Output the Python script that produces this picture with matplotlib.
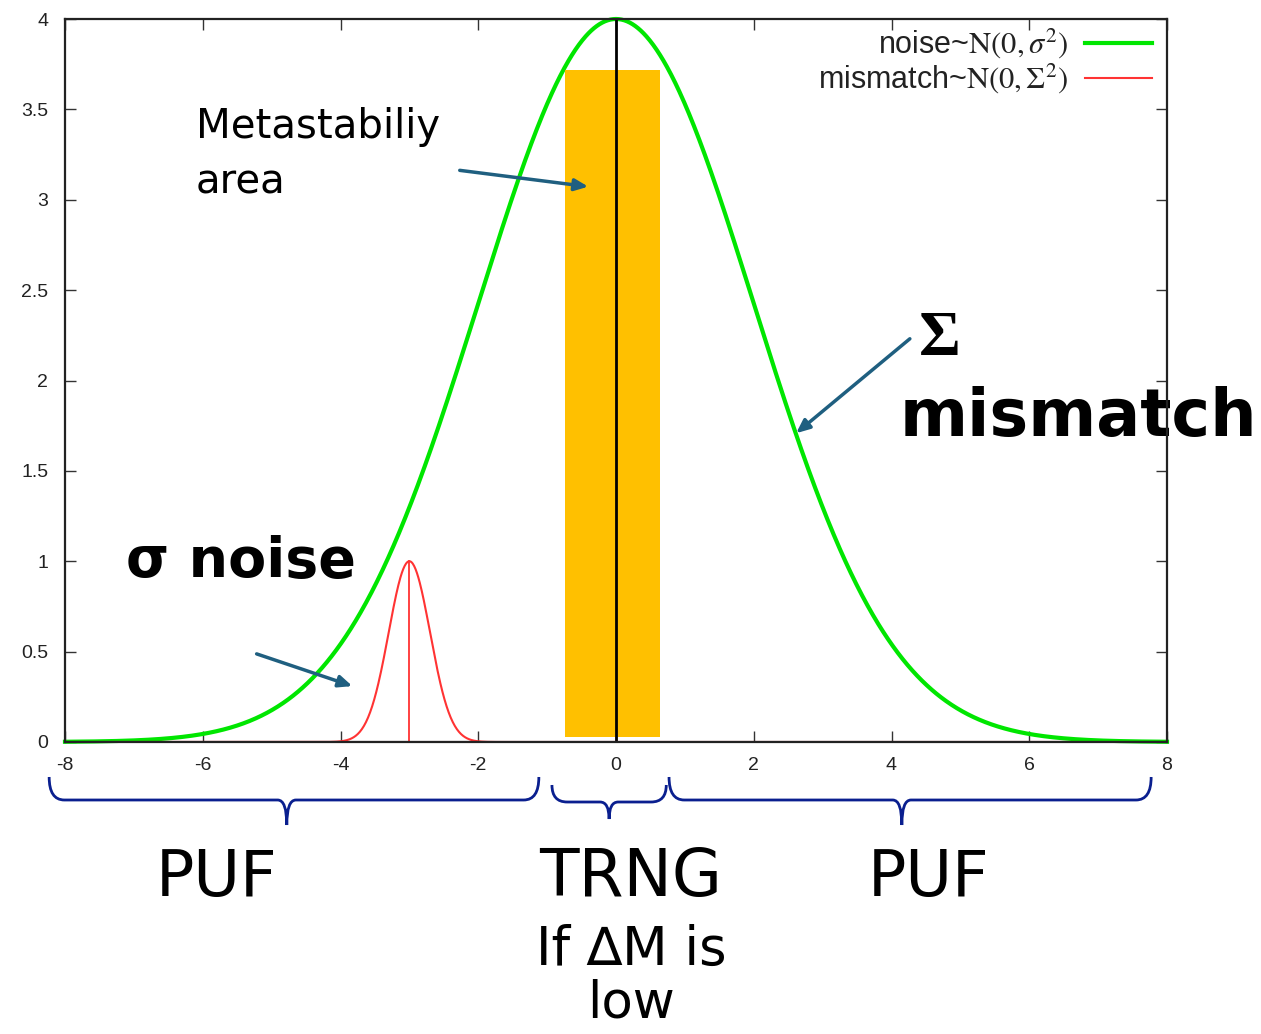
import numpy as np
import matplotlib
matplotlib.use("Agg")
import matplotlib.pyplot as plt
from matplotlib.path import Path
from matplotlib.patches import PathPatch, Rectangle

plt.rcParams['mathtext.fontset'] = 'stix'

# ---- data ----
# wide curve (green): peak, mean, std
green_peak, green_mu, green_sigma = 4.0, 0.0, 2.0
# narrow curve (red): peak, mean, std
red_peak, red_mu, red_sigma = 1.0, -3.0, 0.30
# metastability band
band_x = [-0.74, 0.64]
band_y = [0.03, 3.72]
legend_labels = [r'noise~$\mathrm{N(0,}\sigma^{2}\mathrm{)}$',
                 r'mismatch~$\mathrm{N(0,}\Sigma^{2}\mathrm{)}$']
xticks = [-8, -6, -4, -2, 0, 2, 4, 6, 8]
yticks = [0, 0.5, 1, 1.5, 2, 2.5, 3, 3.5, 4]
ytick_labels = ['0', '0.5', '1', '1.5', '2', '2.5', '3', '3.5', '4']
# brace spans (x ranges) and tip positions
brace_spans = [(-8.23, -1.12, -4.78), (-0.93, 0.73, -0.10), (0.77, 7.77, 4.15)]

GREEN = '#00e600'
RED = '#ff3333'
ORANGE = '#FFC000'
ARROW = '#1f5f80'
BRACE = '#0a1f8f'

fig = plt.figure(figsize=(12.61, 10.34), dpi=100)
ax = fig.add_axes([65/1261, 1 - 742/1034, 1102/1261, 723/1034])

x = np.linspace(-8, 8, 1601)
g = green_peak * np.exp(-(x - green_mu)**2 / (2 * green_sigma**2))
r = red_peak * np.exp(-(x - red_mu)**2 / (2 * red_sigma**2))

ax.plot(x, g, color=GREEN, lw=3.0, zorder=2, clip_on=False)
ax.add_patch(Rectangle((band_x[0], band_y[0]), band_x[1] - band_x[0],
                       band_y[1] - band_y[0], color=ORANGE, zorder=3, lw=0))
ax.plot([green_mu, green_mu], [0, green_peak], color='black', lw=2.0, zorder=4)
ax.plot(x, r, color=RED, lw=1.5, zorder=4)
ax.plot([red_mu, red_mu], [0, red_peak], color=RED, lw=1.3, zorder=4)
ax.axhline(0, color='#4a1010', lw=1.5, zorder=5)

ax.set_xlim(-8, 8)
ax.set_ylim(0, 4)
ax.set_xticks(xticks)
ax.set_xticklabels([str(t) for t in xticks])
ax.set_yticks(yticks)
ax.set_yticklabels(ytick_labels)
ax.tick_params(direction='in', length=8, width=1, top=True, right=True,
               labelsize=14, labelcolor='#222222', colors='#333333')
ax.tick_params(axis='x', pad=11)
ax.tick_params(axis='y', pad=12)
for lab in ax.get_xticklabels() + ax.get_yticklabels():
    lab.set_family('Liberation Sans')
for s in ax.spines.values():
    s.set_linewidth(1.6)
    s.set_color('#222222')
    s.set_zorder(6)

# legend (gnuplot style, right aligned text)
for i, (lab, col, lw) in enumerate(zip(legend_labels, [GREEN, RED], [3.0, 1.5])):
    yy = [0.967, 0.918][i]
    ax.text(0.910, yy, lab, transform=ax.transAxes, ha='right', va='center',
            fontsize=22, color='#222222', family='Liberation Sans')
    ax.plot([0.9256, 0.9864], [yy, yy], transform=ax.transAxes, color=col, lw=lw)

# annotations
def px2d(px, py):
    return ((px - 617) / 68.875, (742 - py) / 180.75)

ax.text(*px2d(197, 127), 'Metastabiliy', fontsize=29, ha='left', va='center')
ax.text(*px2d(197, 183), 'area', fontsize=29, ha='left', va='center')
ax.annotate('', xy=px2d(592, 187), xytext=px2d(458, 170),
            arrowprops=dict(arrowstyle='-|>,head_length=0.8,head_width=0.35',
                            color=ARROW, lw=2.5), annotation_clip=False)

ax.text(*px2d(127, 562), 'σ noise', fontsize=40, fontweight='bold',
        ha='left', va='center')
ax.annotate('', xy=px2d(356, 687), xytext=px2d(255, 653),
            arrowprops=dict(arrowstyle='-|>,head_length=0.8,head_width=0.35',
                            color=ARROW, lw=2.5), annotation_clip=False)

ax.text(*px2d(920, 340), 'Σ', fontsize=46, family='Liberation Serif',
        fontweight='bold', ha='left', va='center')
ax.text(*px2d(901, 418), 'mismatch', fontsize=47, fontweight='bold',
        ha='left', va='center', zorder=1)
ax.annotate('', xy=px2d(795, 435), xytext=px2d(913, 337),
            arrowprops=dict(arrowstyle='-|>,head_length=0.8,head_width=0.35',
                            color=ARROW, lw=2.5), annotation_clip=False)

# braces
def brace(x0, x1, xt, ytop, ymid, ybot):
    dx = 0.22
    verts = [(x0, ytop), (x0, ymid), (x0 + dx, ymid),
             (xt - dx * 0.6, ymid), (xt, ymid), (xt, ybot),
             (xt, ymid), (xt + dx * 0.6, ymid),
             (x1 - dx, ymid), (x1, ymid), (x1, ytop)]
    codes = [Path.MOVETO, Path.CURVE3, Path.CURVE3,
             Path.LINETO, Path.CURVE3, Path.CURVE3,
             Path.CURVE3, Path.CURVE3,
             Path.LINETO, Path.CURVE3, Path.CURVE3]
    ax.add_patch(PathPatch(Path(verts, codes), fill=False, ec=BRACE, lw=2,
                           clip_on=False))

for i, (x0, x1, xt) in enumerate(brace_spans):
    if i == 1:
        brace(x0, x1, xt, px2d(0, 785)[1], px2d(0, 802)[1], px2d(0, 819)[1])
    else:
        brace(x0, x1, xt, px2d(0, 777)[1], px2d(0, 800)[1], px2d(0, 825)[1])

ax.text(*px2d(218, 878), 'PUF', fontsize=46, ha='center', va='center')
ax.text(*px2d(632, 878), 'TRNG', fontsize=46.5, ha='center', va='center')
ax.text(*px2d(930, 878), 'PUF', fontsize=46, ha='center', va='center')
ax.text(*px2d(632, 950), 'If ∆M is', fontsize=38, ha='center', va='center')
ax.text(*px2d(632, 1003), 'low', fontsize=37, ha='center', va='center')

fig.savefig('out.png', dpi=100)
